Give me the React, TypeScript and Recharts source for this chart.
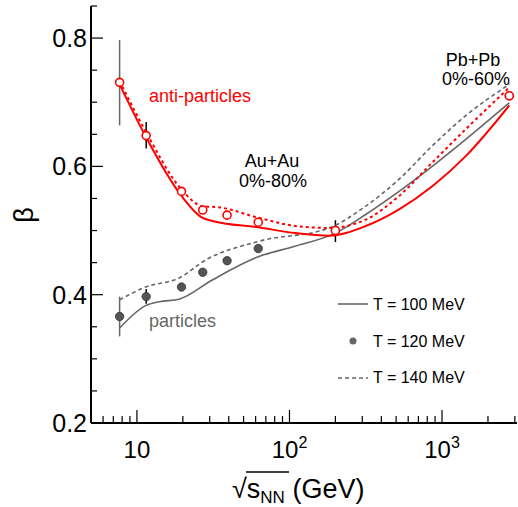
import { ComposedChart, ErrorBar, Line, Scatter, XAxis, YAxis } from "recharts";

const FONT = "'Liberation Sans', Arial, Helvetica, sans-serif";
const RED = "#ff0000";
const GRAY = "#666666";

// measured beta vs sqrt(s_NN) in GeV
const antiPoints = [
  { x: 7.7, y: 0.731 },
  { x: 11.5, y: 0.648 },
  { x: 19.6, y: 0.561 },
  { x: 27, y: 0.532 },
  { x: 39, y: 0.524 },
  { x: 62.4, y: 0.513 },
  { x: 200, y: 0.5 },
  { x: 2760, y: 0.71 },
];
const particlePoints = [
  { x: 7.7, y: 0.366 },
  { x: 11.5, y: 0.397 },
  { x: 19.6, y: 0.412 },
  { x: 27, y: 0.435 },
  { x: 39, y: 0.453 },
  { x: 62.4, y: 0.472 },
  { x: 200, y: 0.5 },
  { x: 2760, y: 0.71 },
];

// error bars, [down, up]
const errGray = [
  { x: 7.7, y: 0.731, ey: [0.067, 0.066] },
  { x: 7.7, y: 0.366, ey: [0.031, 0.031] },
];
const errBlack = [
  { x: 11.5, y: 0.648, ey: [0.02, 0.021] },
  { x: 11.5, y: 0.397, ey: [0.011, 0.012] },
  { x: 200, y: 0.5, ey: [0.018, 0.016] },
];

// model curves
const antiT100 = [
  { x: 7.7, y: 0.728 },
  { x: 11.5, y: 0.645 },
  { x: 19.6, y: 0.554 },
  { x: 26.8, y: 0.52 },
  { x: 31.2, y: 0.515 },
  { x: 62.4, y: 0.505 },
  { x: 110, y: 0.496 },
  { x: 182, y: 0.492 },
  { x: 316, y: 0.507 },
  { x: 523, y: 0.533 },
  { x: 863, y: 0.569 },
  { x: 1430, y: 0.616 },
  { x: 2760, y: 0.695 },
];
const antiT140 = [
  { x: 7.7, y: 0.733 },
  { x: 11.5, y: 0.653 },
  { x: 19.6, y: 0.564 },
  { x: 26.8, y: 0.538 },
  { x: 35, y: 0.536 },
  { x: 62.4, y: 0.52 },
  { x: 110, y: 0.507 },
  { x: 182, y: 0.504 },
  { x: 316, y: 0.517 },
  { x: 523, y: 0.554 },
  { x: 863, y: 0.606 },
  { x: 1430, y: 0.658 },
  { x: 2760, y: 0.723 },
];
const partT100 = [
  { x: 7.7, y: 0.348 },
  { x: 11.4, y: 0.383 },
  { x: 14, y: 0.389 },
  { x: 18.9, y: 0.393 },
  { x: 31.2, y: 0.423 },
  { x: 62.4, y: 0.459 },
  { x: 110, y: 0.476 },
  { x: 200, y: 0.496 },
  { x: 316, y: 0.525 },
  { x: 523, y: 0.561 },
  { x: 863, y: 0.6 },
  { x: 1430, y: 0.642 },
  { x: 2760, y: 0.699 },
];
const partT140 = [
  { x: 7.7, y: 0.392 },
  { x: 11.4, y: 0.412 },
  { x: 18.9, y: 0.426 },
  { x: 28.2, y: 0.454 },
  { x: 62.4, y: 0.483 },
  { x: 182, y: 0.504 },
  { x: 316, y: 0.538 },
  { x: 523, y: 0.58 },
  { x: 863, y: 0.632 },
  { x: 1430, y: 0.679 },
  { x: 2760, y: 0.728 },
];

const xTicks = [
  6, 7, 8, 9, 10, 20, 30, 40, 50, 60, 70, 80, 90, 100, 200, 300, 400, 500, 600,
  700, 800, 900, 1000, 2000, 3000,
];
const yTicks = [0.2, 0.25, 0.3, 0.35, 0.4, 0.45, 0.5, 0.55, 0.6, 0.65, 0.7, 0.75, 0.8, 0.85];
const xMajor: Record<number, [string, string]> = {
  10: ["10", ""],
  100: ["10", "2"],
  1000: ["10", "3"],
};

const isMajorY = (v: number) => {
  const t = Math.round(v * 100);
  return t % 20 === 0;
};

function BottomTick({ x, y, payload }: any) {
  const lab = xMajor[payload.value];
  return (
    <g>
      <line x1={x} y1={y} x2={x} y2={y - (lab ? 13 : 7)} stroke="#000" strokeWidth={1.2} />
      {lab && (
        <text x={x} y={y + 35} textAnchor="middle" fontSize={24} fontFamily={FONT} fill="#000">
          {lab[0]}
          {lab[1] && (
            <tspan dy={-10} fontSize={16}>
              {lab[1]}
            </tspan>
          )}
        </text>
      )}
    </g>
  );
}

function TopTick({ x, y, payload }: any) {
  const major = !!xMajor[payload.value];
  return <line x1={x} y1={y} x2={x} y2={y + (major ? 13 : 7)} stroke="#000" strokeWidth={1.2} />;
}

function LeftTick({ x, y, payload }: any) {
  const major = isMajorY(payload.value);
  return (
    <g>
      <line x1={x} y1={y} x2={x + (major ? 12 : 6)} y2={y} stroke="#000" strokeWidth={1.2} />
      {major && (
        <text x={x - 4} y={y + 9} textAnchor="end" fontSize={25} fontFamily={FONT} fill="#000">
          {payload.value.toFixed(1)}
        </text>
      )}
    </g>
  );
}

function RightTick({ x, y, payload }: any) {
  const major = isMajorY(payload.value);
  return <line x1={x} y1={y} x2={x - (major ? 12 : 6)} y2={y} stroke="#000" strokeWidth={1.2} />;
}

const OpenCircle = (p: any) => (
  <circle cx={p.cx} cy={p.cy} r={4} fill="#fff" stroke={RED} strokeWidth={1.6} />
);
const FilledCircle = (p: any) => (
  <circle cx={p.cx} cy={p.cy} r={4.2} fill="#555" stroke="#333" strokeWidth={0.8} />
);
const NoShape = () => <g />;

export default function App() {
  const axisLine = { stroke: "#000", strokeWidth: 2 };
  return (
    <div style={{ position: "absolute", left: 0, top: 0, width: 518, height: 507, background: "#fff" }}>
      <ComposedChart width={518} height={507} margin={{ top: 6, right: 1, bottom: 0, left: 0 }}>
        <XAxis
          xAxisId="b"
          dataKey="x"
          type="number"
          scale="log"
          domain={[5, 3100]}
          allowDataOverflow
          ticks={xTicks}
          interval={0}
          height={84}
          tickSize={0}
          tickMargin={0}
          axisLine={axisLine}
          tick={BottomTick}
        />
        <XAxis
          xAxisId="t"
          orientation="top"
          dataKey="x"
          type="number"
          scale="log"
          domain={[5, 3100]}
          allowDataOverflow
          ticks={xTicks}
          interval={0}
          height={0}
          tickSize={0}
          tickMargin={0}
          axisLine={axisLine}
          tick={TopTick}
        />
        <YAxis
          yAxisId="l"
          dataKey="y"
          type="number"
          domain={[0.2, 0.85]}
          allowDataOverflow
          ticks={yTicks}
          interval={0}
          width={91}
          tickSize={0}
          tickMargin={0}
          axisLine={axisLine}
          tick={LeftTick}
        />
        <YAxis
          yAxisId="r"
          orientation="right"
          dataKey="y"
          type="number"
          domain={[0.2, 0.85]}
          allowDataOverflow
          ticks={yTicks}
          interval={0}
          width={0}
          tickSize={0}
          tickMargin={0}
          axisLine={axisLine}
          tick={RightTick}
        />

        <Scatter data={errGray} xAxisId="b" yAxisId="l" shape={NoShape} isAnimationActive={false}>
          <ErrorBar dataKey="ey" direction="y" width={0} stroke={GRAY} strokeWidth={1.5} zIndex={350} isAnimationActive={false} />
        </Scatter>
        <Scatter data={errBlack} xAxisId="b" yAxisId="l" shape={NoShape} isAnimationActive={false}>
          <ErrorBar dataKey="ey" direction="y" width={0} stroke="#000" strokeWidth={1.5} zIndex={350} isAnimationActive={false} />
        </Scatter>

        <Line data={partT100} dataKey="y" xAxisId="b" yAxisId="l" type="monotone" stroke={GRAY} strokeWidth={1.6} dot={false} isAnimationActive={false} />
        <Line data={partT140} dataKey="y" xAxisId="b" yAxisId="l" type="monotone" stroke={GRAY} strokeWidth={1.6} strokeDasharray="4 3" dot={false} isAnimationActive={false} />
        <Line data={antiT100} dataKey="y" xAxisId="b" yAxisId="l" type="monotone" stroke={RED} strokeWidth={2} dot={false} isAnimationActive={false} />
        <Line data={antiT140} dataKey="y" xAxisId="b" yAxisId="l" type="monotone" stroke={RED} strokeWidth={2} strokeDasharray="3 3" dot={false} isAnimationActive={false} />

        <Scatter data={particlePoints} xAxisId="b" yAxisId="l" shape={FilledCircle} isAnimationActive={false} />
        <Scatter data={antiPoints} xAxisId="b" yAxisId="l" shape={OpenCircle} isAnimationActive={false} />
      </ComposedChart>

      <svg
        width={518}
        height={507}
        style={{ position: "absolute", left: 0, top: 0, pointerEvents: "none" }}
        fontFamily={FONT}
      >
        <text x={149} y={102} fontSize={18} fill={RED}>anti-particles</text>
        <text x={149} y={327} fontSize={18} fill={GRAY}>particles</text>
        <text x={272} y={167} fontSize={18} textAnchor="middle">Au+Au</text>
        <text x={273} y={187} fontSize={18} textAnchor="middle">0%-80%</text>
        <text x={473} y={66} fontSize={18} textAnchor="middle">Pb+Pb</text>
        <text x={476} y={85} fontSize={18} textAnchor="middle">0%-60%</text>

        <line x1={338} y1={304} x2={368} y2={304} stroke={GRAY} strokeWidth={1.6} />
        <text x={373} y={309.5} fontSize={16}>T = 100 MeV</text>
        <circle cx={353} cy={341} r={3.5} fill={GRAY} />
        <text x={373} y={346.5} fontSize={16}>T = 120 MeV</text>
        <line x1={338} y1={378} x2={368} y2={378} stroke={GRAY} strokeWidth={1.6} strokeDasharray="4 3" />
        <text x={373} y={383} fontSize={16}>T = 140 MeV</text>

        <text x={26} y={215} fontSize={27} textAnchor="middle" transform="rotate(-90 26 215)" dominantBaseline="middle">
          β
        </text>

        <text x={232} y={498} fontSize={27}>
          √s
          <tspan dy={5} fontSize={17}>NN</tspan>
          <tspan dy={-5}> (GeV)</tspan>
        </text>
        <line x1={246} y1={472} x2={289} y2={472} stroke="#000" strokeWidth={1.3} />
      </svg>
    </div>
  );
}
